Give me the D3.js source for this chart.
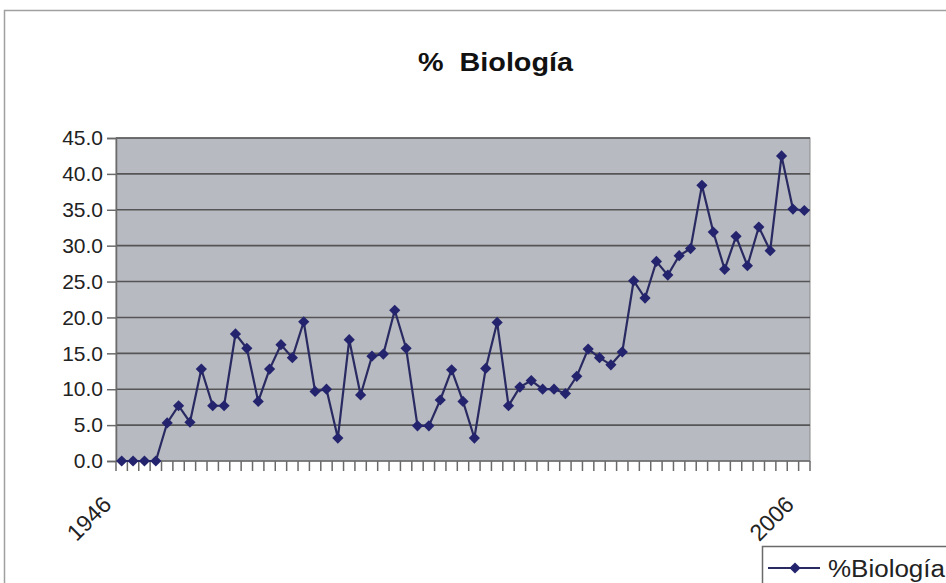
<!DOCTYPE html>
<html>
<head>
<meta charset="utf-8">
<script src="https://cdn.jsdelivr.net/npm/d3@7"></script>
<style>
  html, body { margin: 0; padding: 0; background: #fff; }
  svg { display: block; font-family: "Liberation Sans", Arial, sans-serif; }
</style>
</head>
<body>
<svg id="chart" width="946" height="583"></svg>
<script>
// Yearly share of Biology (%), 1946–2006
const years = d3.range(1946, 2007);
const biologia = [
  0, 0, 0, 0, 5.3, 7.7, 5.4, 12.8, 7.7, 7.7,
  17.7, 15.7, 8.3, 12.8, 16.2, 14.4, 19.4, 9.7, 10.0, 3.2,
  16.9, 9.2, 14.6, 14.9, 21.0, 15.7, 4.9, 4.9, 8.5, 12.7,
  8.3, 3.2, 12.9, 19.3, 7.7, 10.3, 11.2, 10.0, 10.0, 9.4,
  11.8, 15.6, 14.4, 13.4, 15.2, 25.1, 22.7, 27.8, 25.9, 28.6,
  29.6, 38.4, 31.9, 26.7, 31.3, 27.2, 32.6, 29.3, 42.5, 35.1,
  34.9
];
const yTicks = [0, 5, 10, 15, 20, 25, 30, 35, 40, 45];
const xLabels = [1946, 2006];
const title = "%\u00a0\u00a0Biología";
const seriesName = "%Biología";

const svg = d3.select("#chart");
const plot = { left: 116, right: 810, top: 138, bottom: 461 };

// outer chart frame
svg.append("rect")
  .attr("x", 4.5).attr("y", 10.5)
  .attr("width", 960).attr("height", 600)
  .attr("fill", "#fff").attr("stroke", "#a0a0a0").attr("stroke-width", 1.5);

const x = d3.scaleBand().domain(years).range([plot.left, plot.right]).padding(0);
const y = d3.scaleLinear().domain([0, 45]).range([plot.bottom, plot.top]);

// plot area
svg.append("rect")
  .attr("x", plot.left).attr("y", plot.top)
  .attr("width", plot.right - plot.left).attr("height", plot.bottom - plot.top)
  .attr("fill", "#b7bac1").attr("stroke", "#8a8a8a").attr("stroke-width", 1);

// horizontal gridlines
svg.append("g").selectAll("line")
  .data(yTicks.filter(d => d > 0))
  .join("line")
  .attr("x1", plot.left).attr("x2", plot.right)
  .attr("y1", d => y(d)).attr("y2", d => y(d))
  .attr("stroke", "#555").attr("stroke-width", 1.6);

// y axis
const yAxis = svg.append("g")
  .attr("transform", `translate(${plot.left},0)`)
  .call(d3.axisLeft(y).tickValues(yTicks).tickFormat(d3.format(".1f")).tickSize(9).tickPadding(4));
yAxis.select(".domain").attr("stroke", "#6a6a6a").attr("stroke-width", 1.5);
yAxis.selectAll(".tick line").attr("stroke", "#6a6a6a").attr("stroke-width", 1.5);
yAxis.selectAll(".tick text")
  .attr("font-size", 21).attr("fill", "#222")
  .attr("font-family", "Liberation Sans, Arial, sans-serif");

// x axis: a tick at every category boundary, labels only on first and last year
const bounds = years.map(d => x(d)).concat([plot.right]);
const xg = svg.append("g");
xg.append("line")
  .attr("x1", plot.left).attr("x2", plot.right)
  .attr("y1", plot.bottom).attr("y2", plot.bottom)
  .attr("stroke", "#6a6a6a").attr("stroke-width", 1.5);
xg.selectAll("line.tk")
  .data(bounds)
  .join("line").attr("class", "tk")
  .attr("x1", d => d).attr("x2", d => d)
  .attr("y1", plot.bottom).attr("y2", plot.bottom + 10)
  .attr("stroke", "#6a6a6a").attr("stroke-width", 1.5);
xg.selectAll("text")
  .data(xLabels)
  .join("text")
  .attr("transform", d => `translate(${x(d) + x.bandwidth() / 2 - 9},${plot.bottom + 45}) rotate(-45)`)
  .attr("text-anchor", "end")
  .attr("font-size", 23).attr("fill", "#222")
  .text(d => d);

// series line and diamond markers
const cx = d => x(d) + x.bandwidth() / 2;
const pts = years.map((yr, i) => [yr, biologia[i]]);
svg.append("path")
  .datum(pts)
  .attr("fill", "none").attr("stroke", "#2a2a62").attr("stroke-width", 2.2)
  .attr("d", d3.line().x(d => cx(d[0])).y(d => y(d[1])));
const diamond = d3.symbol().type(d3.symbolDiamond2).size(80);
svg.append("g").selectAll("path")
  .data(pts)
  .join("path")
  .attr("transform", d => `translate(${cx(d[0])},${y(d[1])})`)
  .attr("d", diamond)
  .attr("fill", "#24246e");

// title
svg.append("text")
  .attr("x", 418).attr("y", 71)
  .attr("textLength", 155).attr("lengthAdjust", "spacingAndGlyphs")
  .attr("font-size", 25).attr("font-weight", "bold").attr("fill", "#111")
  .text(title);

// legend
const lg = svg.append("g").attr("transform", "translate(762,546)");
lg.append("rect").attr("x", 0.5).attr("y", 0.5).attr("width", 300).attr("height", 100)
  .attr("fill", "#fff").attr("stroke", "#6a6a6a").attr("stroke-width", 1.5);
lg.append("line").attr("x1", 6).attr("x2", 58).attr("y1", 22).attr("y2", 22)
  .attr("stroke", "#2a2a62").attr("stroke-width", 2);
lg.append("path").attr("transform", "translate(33,22)").attr("d", diamond).attr("fill", "#24246e");
lg.append("text").attr("x", 66).attr("y", 31)
  .attr("textLength", 117).attr("lengthAdjust", "spacingAndGlyphs")
  .attr("font-size", 23).attr("fill", "#222").text(seriesName);
</script>
</body>
</html>
